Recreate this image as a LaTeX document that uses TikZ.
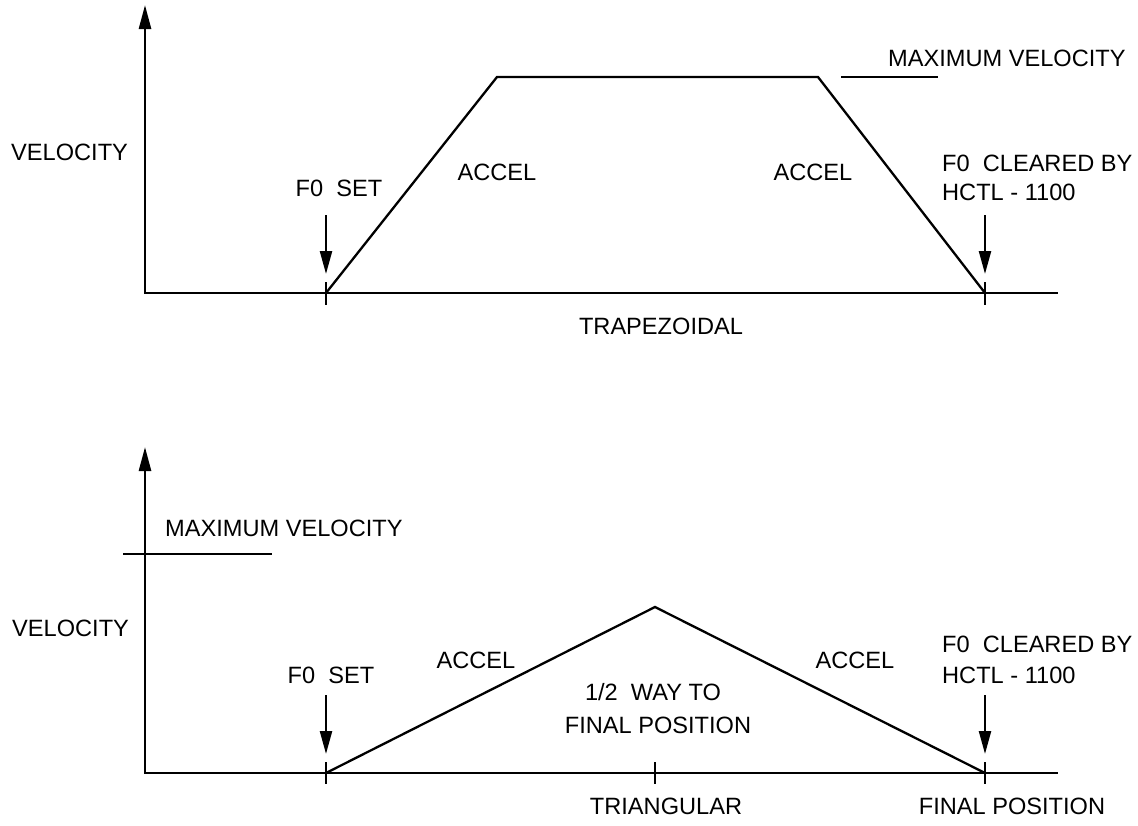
\documentclass[tikz,border=0pt]{standalone}
\usepackage{fontspec}
\setmainfont{Liberation Sans}
\usetikzlibrary{arrows.meta}
\begin{document}
\begin{tikzpicture}[x=1pt,y=-1pt,
  lbl/.style={inner sep=0pt, text height=16.9pt, text depth=0pt,
              font=\fontsize{23.6}{28}\selectfont},
  axisline/.style={line width=2.6pt, line join=miter,
                   {Triangle[length=24pt,width=12pt]}-},
  curve/.style={line width=2.3pt, line join=miter},
  tickmark/.style={line width=2.3pt},
  flagarrow/.style={line width=2.3pt, -{Triangle[length=23pt,width=12pt]}}]
\useasboundingbox (0,0) rectangle (1138,825);

% ---------------- trapezoidal profile ----------------
\coordinate (yt1) at (145,5);
\coordinate (o1)  at (145,293);
\coordinate (xe1) at (1058,293);
\draw[axisline] (yt1) -- (o1) -- (xe1);

\coordinate (s1) at (326,293);
\coordinate (p1) at (497,77);
\coordinate (q1) at (818,77);
\coordinate (e1) at (985,293);
\draw[curve] (s1) -- (p1) -- (q1) -- (e1);

\coordinate (m1a) at (841,77);
\coordinate (m1b) at (938,77);
\draw[curve] (m1a) -- (m1b);

\draw[tickmark] (326,282) -- (326,305);
\draw[tickmark] (985,282) -- (985,305);

\coordinate (f1a) at (326,215);
\coordinate (f1b) at (326,274);
\coordinate (g1a) at (985,215);
\coordinate (g1b) at (985,274);
\draw[flagarrow] (f1a) -- (f1b);
\draw[flagarrow] (g1a) -- (g1b);

\node[lbl, anchor=west] (vel1) at (11,152) {VELOCITY};
\node[lbl] (set1) at (339,188) {F0\ \ SET};
\node[lbl] (acc1a) at (497,172) {ACCEL};
\node[lbl] (acc1b) at (813,172) {ACCEL};
\node[lbl, anchor=west] (clr1) at (942,163) {F0\ \ CLEARED BY};
\node[lbl, anchor=west] (hctl1) at (942,192) {HCTL - 1100};
\node[lbl, anchor=west] (max1) at (888,58) {MAXIMUM VELOCITY};
\node[lbl] (trap) at (661,326) {TRAPEZOIDAL};

% ---------------- triangular profile ----------------
\coordinate (yt2) at (145,447);
\coordinate (o2)  at (145,773);
\coordinate (xe2) at (1058,773);
\draw[axisline] (yt2) -- (o2) -- (xe2);

\coordinate (s2) at (326,773);
\coordinate (p2) at (655,607);
\coordinate (e2) at (985,773);
\draw[curve] (s2) -- (p2) -- (e2);

\coordinate (m2a) at (123,554);
\coordinate (m2b) at (272,554);
\draw[curve] (m2a) -- (m2b);

\draw[tickmark] (326,762) -- (326,784);
\draw[tickmark] (655,762) -- (655,784);
\draw[tickmark] (985,762) -- (985,784);

\coordinate (f2a) at (326,695);
\coordinate (f2b) at (326,754);
\coordinate (g2a) at (985,695);
\coordinate (g2b) at (985,754);
\draw[flagarrow] (f2a) -- (f2b);
\draw[flagarrow] (g2a) -- (g2b);

\node[lbl, anchor=west] (vel2) at (12,628) {VELOCITY};
\node[lbl, anchor=west] (max2) at (165,528) {MAXIMUM VELOCITY};
\node[lbl] (set2) at (331,675) {F0\ \ SET};
\node[lbl] (acc2a) at (476,660) {ACCEL};
\node[lbl] (acc2b) at (855,660) {ACCEL};
\node[lbl] (half) at (653,692) {1/2\ \ WAY TO};
\node[lbl] (fin1) at (658,725) {FINAL POSITION};
\node[lbl, anchor=west] (clr2) at (942,644) {F0\ \ CLEARED BY};
\node[lbl, anchor=west] (hctl2) at (942,675) {HCTL - 1100};
\node[lbl] (tri) at (666,806) {TRIANGULAR};
\node[lbl] (fin2) at (1012,806) {FINAL POSITION};
\end{tikzpicture}
\end{document}
